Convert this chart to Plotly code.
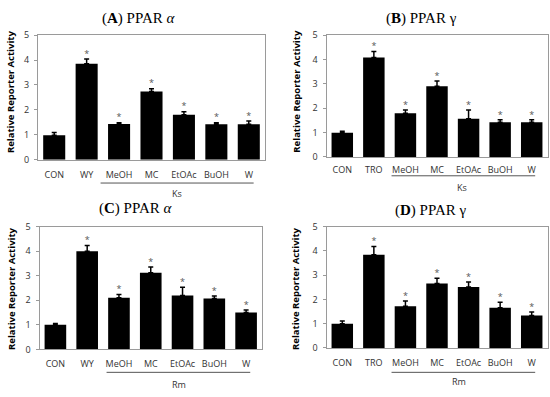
import plotly.graph_objects as go

W_PX, H_PX = 550, 397

cats_wy = ["CON", "WY", "MeOH", "MC", "EtOAc", "BuOH", "W"]
cats_tro = ["CON", "TRO", "MeOH", "MC", "EtOAc", "BuOH", "W"]

a_vals = [0.98, 3.85, 1.44, 2.74, 1.81, 1.43, 1.43]
a_errs = [0.11, 0.19, 0.05, 0.11, 0.12, 0.06, 0.13]
b_vals = [0.99, 4.08, 1.79, 2.90, 1.57, 1.42, 1.42]
b_errs = [0.06, 0.24, 0.13, 0.21, 0.35, 0.10, 0.10]
c_vals = [1.00, 4.00, 2.10, 3.12, 2.19, 2.07, 1.50]
c_errs = [0.05, 0.23, 0.13, 0.23, 0.34, 0.10, 0.10]
d_vals = [1.00, 3.84, 1.72, 2.65, 2.51, 1.66, 1.34]
d_errs = [0.11, 0.34, 0.21, 0.22, 0.21, 0.22, 0.14]
star_flags = [0, 1, 1, 1, 1, 1, 1]

titles = ["(<b>A</b>) PPAR <i>α</i>", "(<b>B</b>) PPAR γ", "(<b>C</b>) PPAR <i>α</i>", "(<b>D</b>) PPAR γ"]
groups = ["Ks", "Ks", "Rm", "Rm"]

# panel geometry in pixels: (left, right, top, bottom)
boxes = [(38, 265, 29, 158), (326.5, 547.5, 29, 155), (39.5, 262, 227, 354), (326.5, 547.5, 227, 352.5)]
tick_standoff = [6, 4, 6, 6]
title_pos = [(138, 12), (422, 12), (135, 208), (430, 210)]
ytitle_pos = [(10, 88), (296.5, 87), (11.5, 291), (295.5, 291)]
line_y = [182, 174.5, 377.7, 377.7]
grp_y = [193, 187, 390, 387]
line_x = [(1.43, 6.15), (1.56, 6.11), (1.61, 6.13), (1.56, 6.11)]
grp_x = [3.8, 3.8, 3.9, 3.7]

panels = [(cats_wy, a_vals, a_errs), (cats_tro, b_vals, b_errs), (cats_wy, c_vals, c_errs), (cats_tro, d_vals, d_errs)]

fig = go.Figure()
layout = dict(width=W_PX, height=H_PX, margin=dict(l=0, r=0, t=0, b=0),
              paper_bgcolor="white", plot_bgcolor="white", showlegend=False,
              bargap=0.32, annotations=[], shapes=[])

def px2x(p):
    return p / W_PX

def px2y(p):
    return 1 - p / H_PX

for i, (cats, vals, errs) in enumerate(panels):
    n = i + 1
    xa = "x" if n == 1 else f"x{n}"
    ya = "y" if n == 1 else f"y{n}"
    fig.add_trace(go.Bar(x=cats, y=vals, xaxis=xa, yaxis=ya, marker_color="black",
                         marker_line_width=0,
                         error_y=dict(type="data", array=errs, arrayminus=[0]*len(errs), symmetric=False,
                                      color="black", thickness=1.5, width=2.5)))
    sx = [c for c, f in zip(cats, star_flags) if f]
    sy = [v + e for v, e, f in zip(vals, errs, star_flags) if f]
    fig.add_trace(go.Scatter(x=sx, y=sy, xaxis=xa, yaxis=ya, mode="text", text=["*"]*len(sx),
                             textposition="top center", textfont=dict(size=9, color="#555555", family="Open Sans"),
                             cliponaxis=False))
    l, r, t, b = boxes[i]
    layout[f"xaxis{'' if n == 1 else n}"] = dict(domain=[px2x(l), px2x(r)], anchor=ya, type="category",
        range=[-0.5, 6.5], showline=True, mirror=True, linecolor="#9a9a9a", linewidth=1,
        ticks="", showgrid=False, tickfont=dict(family="Open Sans", size=9, color="#333333"),
        ticklabelstandoff=tick_standoff[i], fixedrange=True)
    layout[f"yaxis{'' if n == 1 else n}"] = dict(domain=[px2y(b), px2y(t)], anchor=xa,
        range=[0, 5], dtick=1, showline=True, mirror=True, linecolor="#9a9a9a", linewidth=1,
        ticks="outside", ticklen=3, tickcolor="#9a9a9a", showgrid=False, zeroline=False,
        tickfont=dict(family="Open Sans", size=9, color="#333333"), ticklabelstandoff=3)
    tx, ty = title_pos[i]
    layout["annotations"].append(dict(text=titles[i], x=px2x(tx), y=px2y(ty), xref="paper", yref="paper",
                                      showarrow=False, xanchor="center", yanchor="middle",
                                      font=dict(family="Liberation Serif", size=15, color="black")))
    yx, yy = ytitle_pos[i]
    layout["annotations"].append(dict(text="<b>Relative Reporter Activity</b>", x=px2x(yx), y=px2y(yy),
                                      xref="paper", yref="paper", showarrow=False, textangle=-90,
                                      xanchor="center", yanchor="middle",
                                      font=dict(family="Open Sans", size=9.5, color="black")))
    x0, x1 = line_x[i]
    layout["shapes"].append(dict(type="line", xref=xa, yref="paper", x0=x0, x1=x1,
                                 y0=px2y(line_y[i]), y1=px2y(line_y[i]),
                                 line=dict(color="#555555", width=1)))
    layout["annotations"].append(dict(text=groups[i], x=grp_x[i], y=px2y(grp_y[i]), xref=xa, yref="paper",
                                      showarrow=False, xanchor="center", yanchor="middle",
                                      font=dict(family="Open Sans", size=9, color="#333333")))

fig.update_layout(**layout)
fig.write_html("out.html", config={"displayModeBar": False},
               post_script="document.body.style.margin='0';document.body.style.padding='0';document.body.style.overflow='hidden';")
